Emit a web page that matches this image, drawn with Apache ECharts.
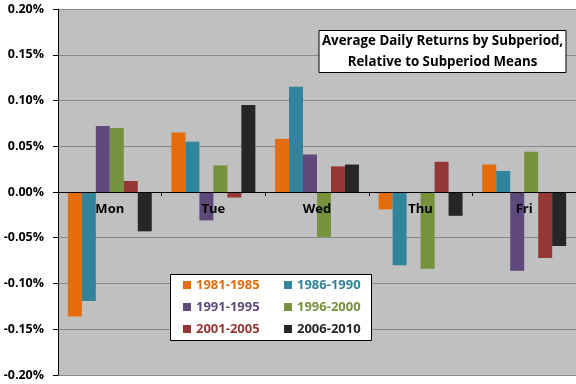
<!DOCTYPE html>
<html><head><meta charset="utf-8">
<script src="https://cdn.jsdelivr.net/npm/echarts@6/dist/echarts.min.js"></script>
<style>html,body{margin:0;padding:0;background:#fff}#c{width:576px;height:384px}</style>
</head><body><div id="c"></div>
<script>
var categories = ['Mon', 'Tue', 'Wed', 'Thu', 'Fri'];
var seriesNames = ['1981-1985', '1986-1990', '1991-1995', '1996-2000', '2001-2005', '2006-2010'];
var s1981 = [-0.136, 0.065, 0.058, -0.019, 0.030];
var s1986 = [-0.119, 0.055, 0.115, -0.080, 0.023];
var s1991 = [0.072, -0.031, 0.041, 0.000, -0.086];
var s1996 = [0.070, 0.029, -0.049, -0.084, 0.044];
var s2001 = [0.012, -0.006, 0.028, 0.033, -0.072];
var s2006 = [-0.043, 0.095, 0.030, -0.026, -0.059];
var yTicks = [-0.20, -0.15, -0.10, -0.05, 0.00, 0.05, 0.10, 0.15, 0.20];
var titleLines = ['Average Daily Returns by Subperiod,', 'Relative to Subperiod Means'];

var colors = ['#E46C0A', '#31849B', '#5F497A', '#76923C', '#953735', '#262626'];
var allData = [s1981, s1986, s1991, s1996, s2001, s2006];
var FONT = 'Open Sans';

var chart = echarts.init(document.getElementById('c'), null, {renderer: 'canvas'});
var series = seriesNames.map(function (n, i) {
  return {
    name: n, type: 'bar', data: allData[i],
    itemStyle: {color: colors[i]},
    barGap: 0, barCategoryGap: '19%'
  };
});
var legendText = {fontFamily: FONT, fontWeight: 'bold', fontSize: 13, lineHeight: 16};
function legendItems(idx) {
  return idx.map(function (i) {
    return {name: seriesNames[i], textStyle: Object.assign({color: colors[i]}, legendText)};
  });
}
var legendCommon = {
  orient: 'vertical', icon: 'rect', itemWidth: 8, itemHeight: 8,
  itemGap: 6, padding: 0, selectedMode: false,
  textStyle: legendText
};
chart.setOption({
  animation: false,
  backgroundColor: '#fff',
  title: {
    text: titleLines.join('\n'),
    left: 439.5, top: 30,
    textAlign: 'center',
    padding: [1, 3, 0, 3],
    borderColor: '#000', borderWidth: 1, backgroundColor: '#fff',
    textStyle: {fontFamily: FONT, fontWeight: 'bold', fontSize: 13.3, lineHeight: 21, color: '#000'}
  },
  graphic: [{
    type: 'rect', left: 170, top: 274, z: 10,
    shape: {width: 201, height: 66},
    style: {fill: '#fff', stroke: '#000', lineWidth: 1}
  }],
  legend: [
    Object.assign({left: 183, top: 277, data: legendItems([0, 2, 4]), z: 20}, legendCommon),
    Object.assign({left: 284, top: 277, data: legendItems([1, 3, 5]), z: 20}, legendCommon)
  ],
  grid: {left: 58, top: 9, right: -1, bottom: 9, show: true, backgroundColor: '#C0C0C0', borderWidth: 0},
  xAxis: {
    type: 'category', data: categories, z: 5,
    position: 'bottom', offset: -183,
    axisLine: {onZero: false, lineStyle: {color: '#000', width: 1}},
    axisTick: {show: true, length: 4, lineStyle: {color: '#000'}},
    axisLabel: {fontFamily: FONT, fontWeight: 'bold', fontSize: 13, color: '#000', margin: 11}
  },
  yAxis: {
    type: 'value', min: yTicks[0], max: yTicks[yTicks.length - 1], interval: 0.05,
    axisLine: {show: true, lineStyle: {color: '#000'}},
    axisTick: {show: true, length: 5, lineStyle: {color: '#000'}},
    splitLine: {lineStyle: {color: '#868686'}},
    axisLabel: {
      fontFamily: FONT, fontWeight: 'bold', fontSize: 12.5, color: '#000', margin: 14,
      formatter: function (v) { return v.toFixed(2) + '%'; }
    }
  },
  series: series
});
</script></body></html>
